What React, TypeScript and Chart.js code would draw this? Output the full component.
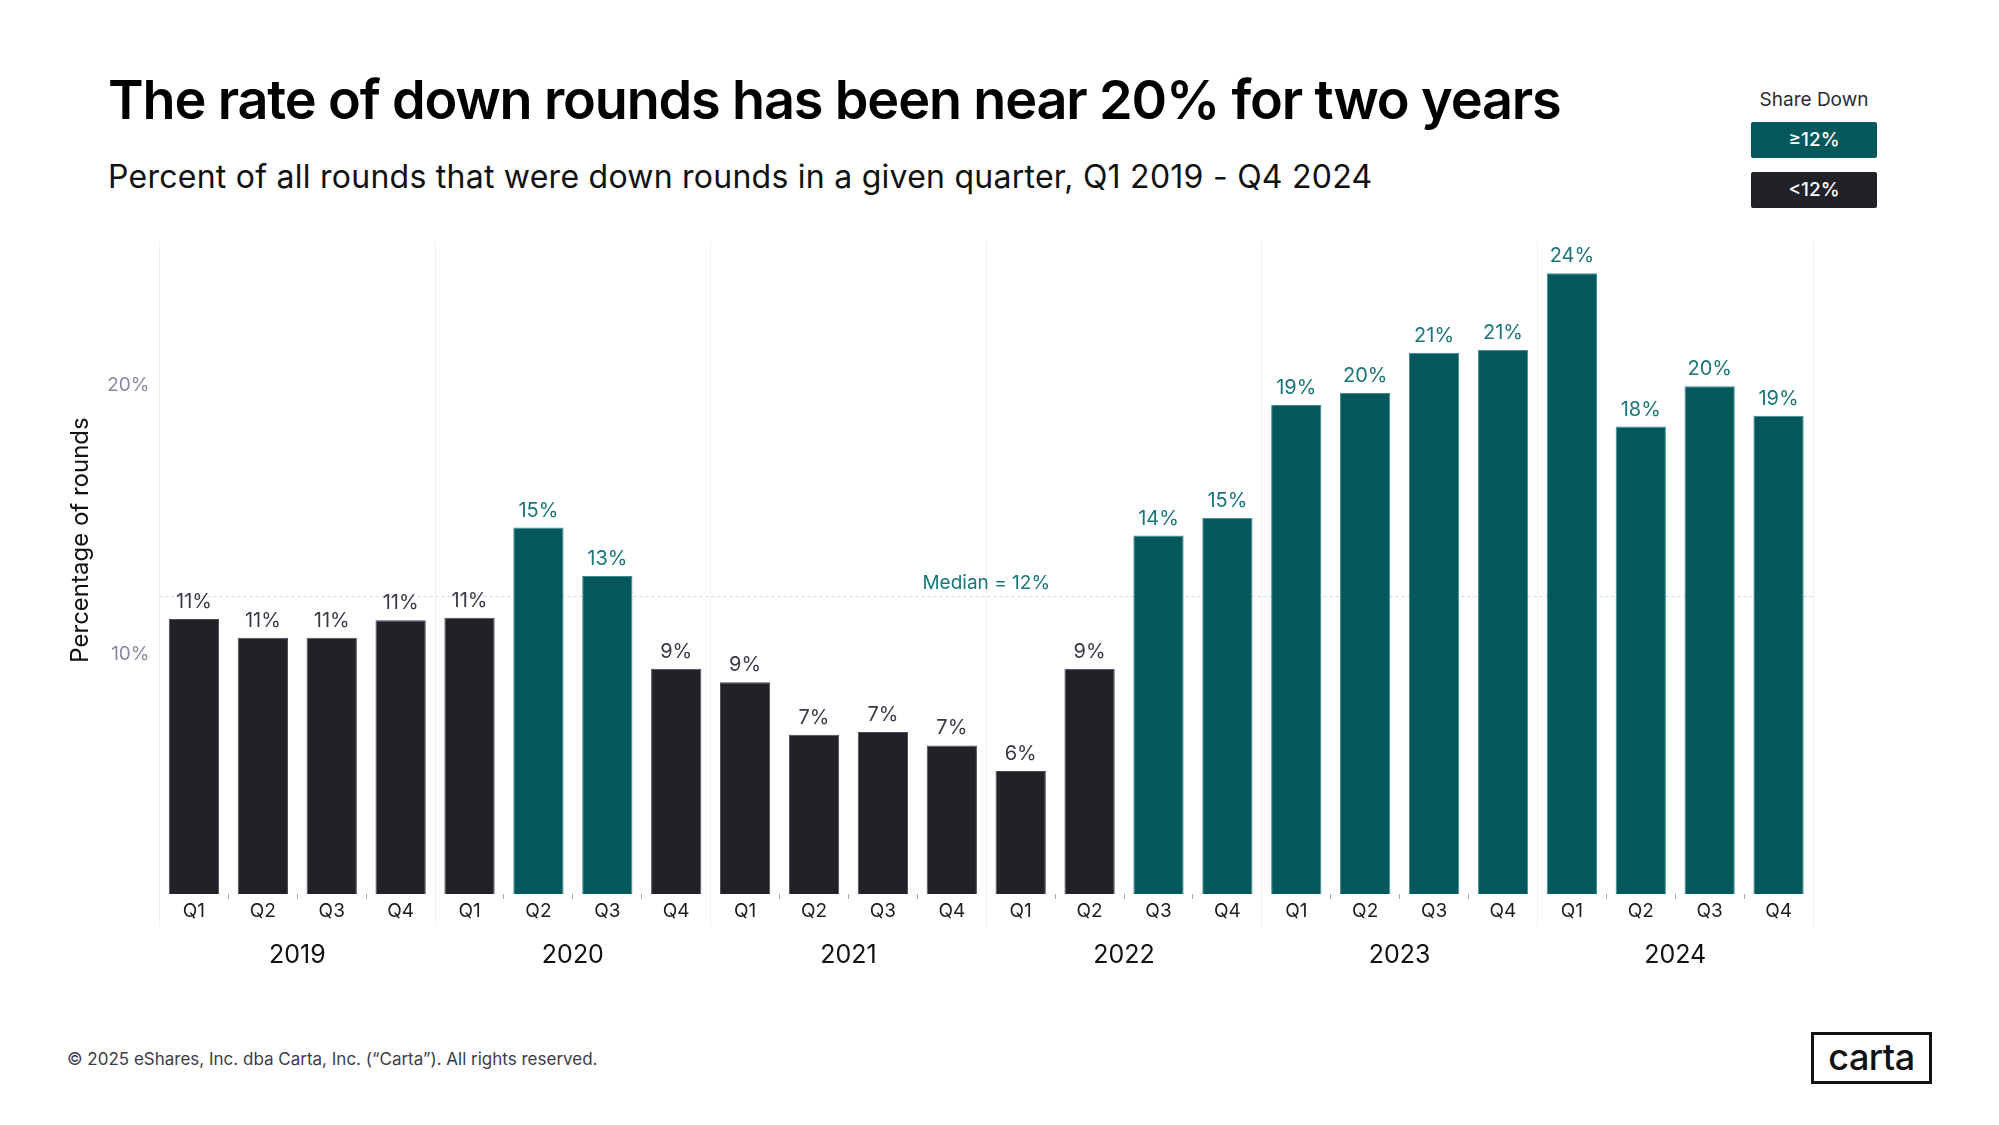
import { useEffect, useRef } from 'react';
import { Chart, registerables, type Plugin } from 'chart.js';

Chart.register(...registerables);

// quarters on the x axis, grouped by year underneath
const quarters = [
  'Q1', 'Q2', 'Q3', 'Q4',
  'Q1', 'Q2', 'Q3', 'Q4',
  'Q1', 'Q2', 'Q3', 'Q4',
  'Q1', 'Q2', 'Q3', 'Q4',
  'Q1', 'Q2', 'Q3', 'Q4',
  'Q1', 'Q2', 'Q3', 'Q4',
];
const years = ['2019', '2020', '2021', '2022', '2023', '2024'];

// share of rounds that were down rounds (%)
const downRoundShare = [
  11.3, 10.6, 10.6, 11.25,
  11.35, 14.7, 12.9, 9.45,
  8.95, 7.0, 7.1, 6.6,
  5.65, 9.45, 14.4, 15.05,
  19.25, 19.7, 21.2, 21.3,
  24.15, 18.45, 19.95, 18.85,
];
// printed labels above the bars
const valueLabels = [
  '11%', '11%', '11%', '11%',
  '11%', '15%', '13%', '9%',
  '9%', '7%', '7%', '7%',
  '6%', '9%', '14%', '15%',
  '19%', '20%', '21%', '21%',
  '24%', '18%', '20%', '19%',
];
const yTickValues = [10, 20];
const medianValue = 12.15;
const medianLabel = 'Median = 12%';
const threshold = 12;

const TEAL = '#02585b';
const TEAL_EDGE = '#3c8e92';
const TEAL_TEXT = '#19757a';
const DARK = '#222127';
const DARK_EDGE = '#4b4959';
const FONT = 'Inter, "Noto Sans", sans-serif';

const isYearEdge = (i: number | undefined) => i === undefined || i % 4 === 0;

const annotations: Plugin<'bar'> = {
  id: 'annotations',
  beforeDatasetsDraw(chart) {
    const { ctx, chartArea, scales } = chart;
    const y = scales.y.getPixelForValue(medianValue);
    ctx.save();
    ctx.strokeStyle = '#c6d8ee';
    ctx.lineWidth = 1;
    ctx.setLineDash([3, 3]);
    ctx.beginPath();
    ctx.moveTo(chartArea.left, Math.round(y) + 0.5);
    ctx.lineTo(chartArea.right, Math.round(y) + 0.5);
    ctx.stroke();
    ctx.restore();
  },
  afterDatasetsDraw(chart) {
    const { ctx, scales } = chart;
    const meta = chart.getDatasetMeta(0);
    ctx.save();
    ctx.textAlign = 'center';
    ctx.textBaseline = 'middle';
    ctx.font = `400 20px ${FONT}`;
    meta.data.forEach((bar, i) => {
      ctx.fillStyle = downRoundShare[i] >= threshold ? TEAL_TEXT : '#3a3946';
      ctx.fillText(valueLabels[i], bar.x, bar.y - 17);
    });
    // median label sits on the 2021 / 2022 boundary
    const mx = scales.x.getPixelForValue(11.5);
    const my = scales.y.getPixelForValue(medianValue);
    ctx.fillStyle = TEAL_TEXT;
    ctx.font = `400 19px ${FONT}`;
    ctx.fillText(medianLabel, mx, my - 13);
    // y axis title
    ctx.fillStyle = '#111';
    ctx.font = `400 24px ${FONT}`;
    ctx.translate(81, 340);
    ctx.rotate(-Math.PI / 2);
    ctx.fillText('Percentage of rounds', 0, 0);
    ctx.restore();
  },
};

function DownRoundsChart() {
  const canvasRef = useRef<HTMLCanvasElement>(null);
  const chartRef = useRef<Chart | null>(null);

  useEffect(() => {
    if (!canvasRef.current) return;
    chartRef.current?.destroy();

    chartRef.current = new Chart(canvasRef.current, {
      type: 'bar',
      data: {
        labels: quarters,
        datasets: [
          {
            data: downRoundShare,
            backgroundColor: downRoundShare.map((v) => (v >= threshold ? TEAL : DARK)),
            borderColor: downRoundShare.map((v) => (v >= threshold ? TEAL_EDGE : DARK_EDGE)),
            borderWidth: 1,
            categoryPercentage: 1,
            barPercentage: 0.73,
          },
        ],
      },
      options: {
        animation: false,
        responsive: false,
        maintainAspectRatio: false,
        layout: { padding: { left: 60, right: 186, top: 41.5, bottom: 0 } },
        plugins: {
          legend: { display: false },
          tooltip: { enabled: false },
        },
        scales: {
          x: {
            type: 'category',
            offset: true,
            weight: 0,
            border: { display: false },
            grid: {
              display: true,
              offset: true,
              drawOnChartArea: true,
              drawTicks: true,
              tickLength: 32,
              lineWidth: 1,
              color: (ctx) => (isYearEdge(ctx.index) ? '#eef0f6' : 'rgba(0,0,0,0)'),
              tickColor: (ctx) => (isYearEdge(ctx.index) ? '#eef0f6' : '#a6a3bb'),
              tickBorderDash: (ctx) => (isYearEdge(ctx.index) ? [] : [5, 60]),
            },
            ticks: {
              padding: -26,
              color: '#1c1c22',
              font: { family: FONT, size: 19 },
              maxRotation: 0,
              autoSkip: false,
            },
            afterFit: (s) => {
              s.height = 36;
            },
          },
          x2: {
            type: 'category',
            labels: years,
            position: 'bottom',
            offset: true,
            weight: 1,
            border: { display: false },
            grid: { display: false },
            ticks: {
              padding: 2,
              color: '#111',
              font: { family: FONT, size: 25 },
              maxRotation: 0,
              autoSkip: false,
            },
            afterFit: (s) => {
              s.height = 70;
            },
          },
          y: {
            min: 1.08,
            max: 25.33,
            border: { display: false },
            grid: { display: false },
            afterBuildTicks: (s) => {
              s.ticks = yTickValues.map((value) => ({ value }));
            },
            ticks: {
              padding: 2,
              color: '#8a87a2',
              font: { family: FONT, size: 19 },
              callback: (v) => `${v}%`,
            },
            afterFit: (s) => {
              s.width = 99.5;
            },
          },
        },
      },
      plugins: [annotations],
    });

    return () => {
      chartRef.current?.destroy();
      chartRef.current = null;
    };
  }, []);

  return <canvas ref={canvasRef} width={1999} height={800} style={{ position: 'absolute', left: 0, top: 200 }} />;
}

export default function App() {
  const legendBox = (top: number, bg: string, text: string) => (
    <div
      style={{
        position: 'absolute',
        left: 1751,
        top,
        width: 126,
        height: 36,
        background: bg,
        borderRadius: 2,
        color: '#fff',
        fontSize: 19,
        fontWeight: 500,
        lineHeight: '36px',
        textAlign: 'center',
      }}
    >
      {text}
    </div>
  );

  return (
    <div
      style={{
        position: 'absolute',
        left: 0,
        top: 0,
        width: 1999,
        height: 1125,
        background: '#fff',
        fontFamily: FONT,
        overflow: 'hidden',
      }}
    >
      <div
        style={{
          position: 'absolute',
          left: 108,
          top: 73,
          fontSize: 54,
          lineHeight: 1,
          fontWeight: 600,
          letterSpacing: -1.15,
          color: '#000',
          whiteSpace: 'nowrap',
        }}
      >
        The rate of down rounds has been near 20% for two years
      </div>
      <div
        style={{
          position: 'absolute',
          left: 108,
          top: 161,
          fontSize: 32,
          lineHeight: 1,
          fontWeight: 400,
          letterSpacing: 0.25,
          color: '#111',
          whiteSpace: 'nowrap',
        }}
      >
        Percent of all rounds that were down rounds in a given quarter, Q1 2019 - Q4 2024
      </div>
      <div
        style={{
          position: 'absolute',
          left: 1751,
          top: 90,
          width: 126,
          fontSize: 19,
          lineHeight: 1,
          textAlign: 'center',
          color: '#2b2a35',
        }}
      >
        Share Down
      </div>
      {legendBox(122, TEAL, '≥12%')}
      {legendBox(172, DARK, '<12%')}
      <DownRoundsChart />
      <div
        style={{
          position: 'absolute',
          left: 67,
          top: 1051,
          fontSize: 17,
          lineHeight: 1,
          color: '#3c3b48',
          whiteSpace: 'nowrap',
        }}
      >
        © 2025 eShares, Inc. dba Carta, Inc. (“Carta”). All rights reserved.
      </div>
      <div
        style={{
          position: 'absolute',
          left: 1811,
          top: 1032,
          width: 121,
          height: 52,
          boxSizing: 'border-box',
          border: '3px solid #111',
          fontSize: 36,
          fontWeight: 500,
          lineHeight: '44px',
          textAlign: 'center',
          color: '#111',
          letterSpacing: -0.5,
        }}
      >
        carta
      </div>
    </div>
  );
}
